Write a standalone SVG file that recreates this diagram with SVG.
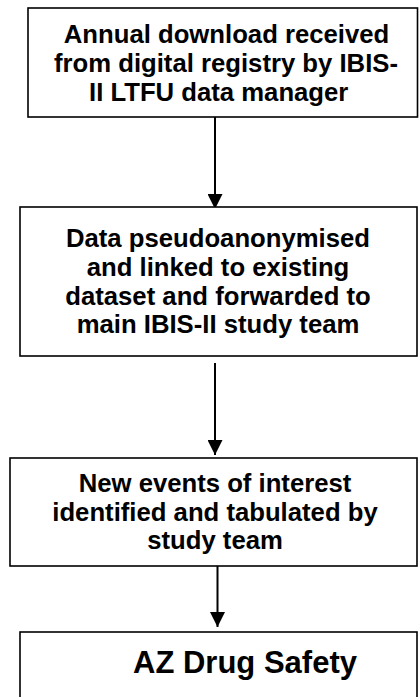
<svg xmlns="http://www.w3.org/2000/svg" width="419" height="697" viewBox="0 0 419 697">
<style>
.box{fill:#fff;stroke:#000;stroke-width:1.6}
.t{font-family:"Liberation Sans",Arial,sans-serif;font-weight:bold;font-size:25.7px;fill:#000;text-anchor:middle}
.big{font-size:31px}
.conn{stroke:#000;stroke-width:2;fill:none;marker-end:url(#ah)}
</style>
<defs>
<marker id="ah" markerUnits="userSpaceOnUse" viewBox="0 0 15 15" refX="15" refY="7.5" markerWidth="15" markerHeight="15" orient="auto">
<path d="M0,0 L15,7.5 L0,15 z" fill="#000"/>
</marker>
</defs>
<rect width="419" height="697" fill="#fff"/>
<g id="connectors">
<line class="conn" x1="215" y1="117" x2="215" y2="209"/>
<line class="conn" x1="215" y1="363" x2="215" y2="455"/>
<line class="conn" x1="217.5" y1="566" x2="217.5" y2="627"/>
</g>
<g id="node1">
<rect class="box" x="28" y="8" width="389.5" height="109"/>
<text class="t" x="226.5" y="43.3">Annual download received</text>
<text class="t" x="226" y="72">from digital registry by IBIS-</text>
<text class="t" x="218.7" y="101">II LTFU data manager</text>
</g>
<g id="node2">
<rect class="box" x="20" y="207" width="397" height="149"/>
<text class="t" x="218" y="247">Data pseudoanonymised</text>
<text class="t" x="218" y="276">and linked to existing</text>
<text class="t" x="218" y="304.5">dataset and forwarded to</text>
<text class="t" x="218" y="333">main IBIS-II study team</text>
</g>
<g id="node3">
<rect class="box" x="10" y="458" width="407" height="108"/>
<text class="t" x="215" y="492">New events of interest</text>
<text class="t" x="215" y="520.5">identified and tabulated by</text>
<text class="t" x="215" y="549">study team</text>
</g>
<g id="node4">
<rect class="box" x="20" y="632" width="397" height="100"/>
<text class="t big" x="245" y="673">AZ Drug Safety</text>
</g>
</svg>
